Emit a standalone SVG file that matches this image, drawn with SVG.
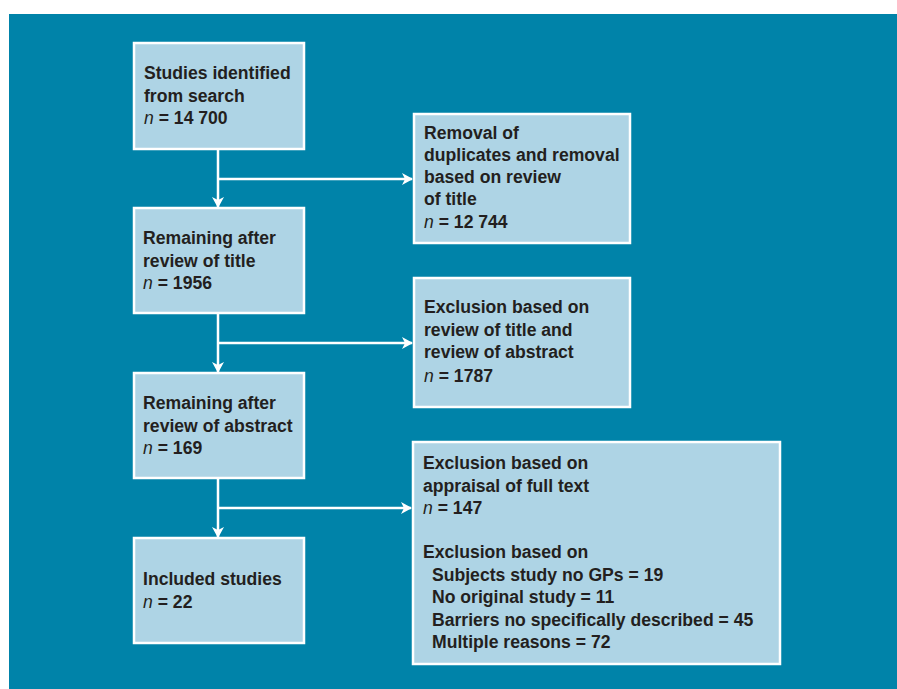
<svg xmlns="http://www.w3.org/2000/svg" width="897" height="689" viewBox="0 0 897 689">
<style>
.box{fill:#AED4E5;stroke:#FFFFFF;stroke-width:2.5}
.t{font-family:"Liberation Sans",Arial,sans-serif;font-weight:bold;font-size:17.6px;fill:#231F20}
.n{font-style:italic;font-weight:normal}
.c{stroke:#FFFFFF;stroke-width:2.5;fill:none}
</style>
<defs>
<marker id="ah" markerWidth="12" markerHeight="12" refX="10" refY="6" orient="auto" markerUnits="userSpaceOnUse">
<path d="M0,0 L11,6 L0,12 L3,6 Z" fill="#FFFFFF"/>
</marker>
</defs>
<rect x="0" y="0" width="897" height="689" fill="#FFFFFF"/>
<rect x="9" y="14" width="888" height="675" fill="#0083A9"/>
<g id="connectors">
<path class="c" d="M218,149 V207" marker-end="url(#ah)"/>
<path class="c" d="M218,179 H412" marker-end="url(#ah)"/>
<path class="c" d="M218,313 V372" marker-end="url(#ah)"/>
<path class="c" d="M218,343 H412" marker-end="url(#ah)"/>
<path class="c" d="M218,478 V537" marker-end="url(#ah)"/>
<path class="c" d="M218,508 H411" marker-end="url(#ah)"/>
</g>
<g id="n1">
<rect class="box" x="134" y="43" width="170" height="106"/>
<text class="t" x="144" y="79">Studies identified</text>
<text class="t" x="144" y="102">from search</text>
<text class="t" x="144" y="124"><tspan class="n">n</tspan> = 14 700</text>
</g>
<g id="n2">
<rect class="box" x="414" y="114" width="216" height="129"/>
<text class="t" x="424" y="139">Removal of</text>
<text class="t" x="424" y="161">duplicates and removal</text>
<text class="t" x="424" y="183">based on review</text>
<text class="t" x="424" y="205">of title</text>
<text class="t" x="424" y="228"><tspan class="n">n</tspan> = 12 744</text>
</g>
<g id="n3">
<rect class="box" x="134" y="208" width="170" height="105"/>
<text class="t" x="143" y="244">Remaining after</text>
<text class="t" x="143" y="267">review of title</text>
<text class="t" x="143" y="289"><tspan class="n">n</tspan> = 1956</text>
</g>
<g id="n4">
<rect class="box" x="414" y="278" width="216" height="129"/>
<text class="t" x="424" y="313">Exclusion based on</text>
<text class="t" x="424" y="336">review of title and</text>
<text class="t" x="424" y="358">review of abstract</text>
<text class="t" x="424" y="382"><tspan class="n">n</tspan> = 1787</text>
</g>
<g id="n5">
<rect class="box" x="134" y="373" width="170" height="105"/>
<text class="t" x="143" y="409">Remaining after</text>
<text class="t" x="143" y="432">review of abstract</text>
<text class="t" x="143" y="454"><tspan class="n">n</tspan> = 169</text>
</g>
<g id="n6">
<rect class="box" x="413" y="442" width="367" height="222"/>
<text class="t" x="423" y="469">Exclusion based on</text>
<text class="t" x="423" y="492">appraisal of full text</text>
<text class="t" x="423" y="514"><tspan class="n">n</tspan> = 147</text>
<text class="t" x="423" y="558">Exclusion based on</text>
<text class="t" x="432" y="581">Subjects study no GPs = 19</text>
<text class="t" x="432" y="603">No original study = 11</text>
<text class="t" x="432" y="626">Barriers no specifically described = 45</text>
<text class="t" x="432" y="648">Multiple reasons = 72</text>
</g>
<g id="n7">
<rect class="box" x="134" y="538" width="170" height="105"/>
<text class="t" x="143" y="585">Included studies</text>
<text class="t" x="143" y="608"><tspan class="n">n</tspan> = 22</text>
</g>
</svg>
